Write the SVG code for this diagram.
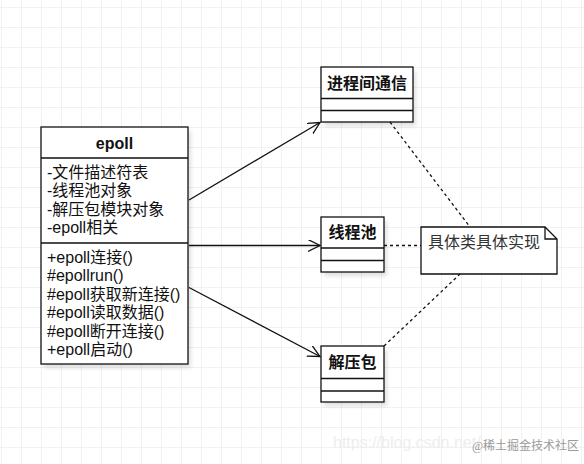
<svg xmlns="http://www.w3.org/2000/svg" width="584" height="464" viewBox="0 0 584 464">
<style>
.box{fill:#fff;stroke:#111;stroke-width:1.3}
.sh{fill:#000;opacity:0.12;filter:url(#blur)}
.t{font-family:"Liberation Sans","Noto Sans CJK SC",sans-serif;font-size:16px;fill:#111}
.b{font-weight:bold;text-anchor:middle}
.edge{stroke:#111;stroke-width:1.3;fill:none}
.dash{stroke:#111;stroke-width:1.3;fill:none;stroke-dasharray:3 3}
</style>
<defs>
<pattern id="grid" x="1" y="7" width="20" height="20" patternUnits="userSpaceOnUse">
<path d="M0 0H20M0 0V20" stroke="#e4e4e4" stroke-width="1" fill="none"/>
</pattern>
<filter id="blur" x="-20%" y="-20%" width="140%" height="140%"><feGaussianBlur stdDeviation="2"/></filter>
<marker id="arr" markerWidth="14" markerHeight="14" refX="12" refY="6" orient="auto" markerUnits="userSpaceOnUse">
<path d="M0 0L12 6L0 12" fill="none" stroke="#111" stroke-width="1.3"/>
</marker>
</defs>
<rect width="584" height="464" fill="#fff"/>
<rect width="584" height="464" fill="url(#grid)"/>

<g id="epoll">
<rect class="sh" x="44" y="131" width="147" height="237"/>
<rect class="box" x="41" y="127" width="147" height="237"/>
<line class="edge" x1="41" y1="158" x2="188" y2="158"/>
<line class="edge" x1="41" y1="243" x2="188" y2="243"/>
<text class="t b" x="114.5" y="148.5">epoll</text>
<text class="t" x="47" y="177.5">-文件描述符表</text>
<text class="t" x="47" y="196">-线程池对象</text>
<text class="t" x="47" y="214.5">-解压包模块对象</text>
<text class="t" x="47" y="233">-epoll相关</text>
<text class="t" x="47" y="262.5">+epoll连接()</text>
<text class="t" x="47" y="281">#epollrun()</text>
<text class="t" x="47" y="299.5">#epoll获取新连接()</text>
<text class="t" x="47" y="318">#epoll读取数据()</text>
<text class="t" x="47" y="336.5">#epoll断开连接()</text>
<text class="t" x="47" y="355">+epoll启动()</text>
</g>

<g id="ipc">
<rect class="sh" x="324" y="71" width="92" height="55"/>
<rect class="box" x="321" y="67" width="92" height="55"/>
<line class="edge" x1="321" y1="98.5" x2="413" y2="98.5"/>
<line class="edge" x1="321" y1="110.5" x2="413" y2="110.5"/>
<text class="t b" x="367" y="88.5">进程间通信</text>
</g>

<g id="threadpool">
<rect class="sh" x="324" y="221" width="63" height="55"/>
<rect class="box" x="321" y="217" width="63" height="55"/>
<line class="edge" x1="321" y1="248" x2="384" y2="248"/>
<line class="edge" x1="321" y1="260.5" x2="384" y2="260.5"/>
<text class="t b" x="352.5" y="237.5">线程池</text>
</g>

<g id="unpack">
<rect class="sh" x="324" y="350" width="63" height="56"/>
<rect class="box" x="321" y="346" width="63" height="56"/>
<line class="edge" x1="321" y1="378.5" x2="384" y2="378.5"/>
<line class="edge" x1="321" y1="391" x2="384" y2="391"/>
<text class="t b" x="352.5" y="367.5">解压包</text>
</g>

<g id="note">
<path class="box" d="M421 227H545L557 239V274H421Z"/>
<path class="edge" d="M545 227V239H557"/>
<text class="t" x="428" y="247.5" style="fill:#333">具体类具体实现</text>
</g>

<g id="connectors">
<line class="edge" x1="189" y1="200" x2="320" y2="122.5" marker-end="url(#arr)"/>
<line class="edge" x1="189" y1="245.5" x2="320" y2="245.5" marker-end="url(#arr)"/>
<line class="edge" x1="189" y1="287.5" x2="320" y2="356.5" marker-end="url(#arr)"/>
<line class="dash" x1="390" y1="122" x2="470" y2="227"/>
<line class="dash" x1="384" y1="245.5" x2="421" y2="245.5"/>
<line class="dash" x1="384" y1="346" x2="460" y2="274"/>
</g>

<text x="333" y="448" font-family="Liberation Sans, sans-serif" font-size="16" fill="#eeeeee">https://blog.csdn.net/</text>
<text x="472" y="450" font-family="Liberation Serif,'Noto Sans CJK SC',serif" font-size="12" fill="#9a9a9a">@稀土掘金技术社区</text>
</svg>
